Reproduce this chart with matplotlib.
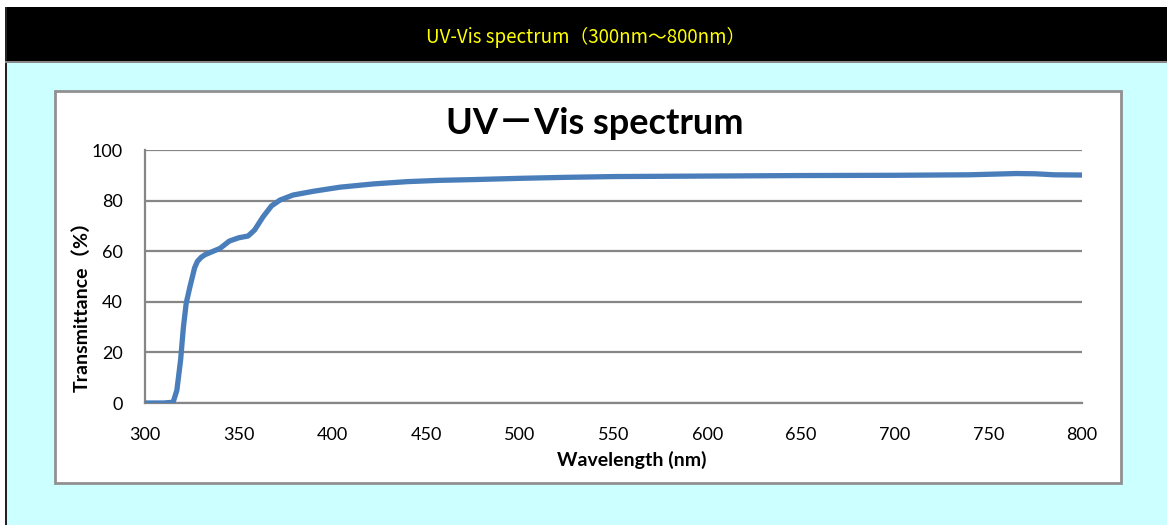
import matplotlib
matplotlib.use("Agg")
import matplotlib.pyplot as plt
from matplotlib.patches import Rectangle

# spectrum
wavelength = [300, 305, 310, 315, 317, 319, 320.5, 322, 324, 326.5, 328, 330, 332, 334.5, 340,
              345, 350, 355, 358.5, 363, 367.5, 372, 379, 390, 404, 422, 440, 457,
              475, 500, 525, 550, 575, 600, 650, 700, 740, 755, 765, 775, 785, 800]
transmittance = [0, 0, 0, 0.3, 5, 17, 30, 39.5, 46, 53.5, 56, 57.6, 58.6, 59.4, 61.1,
                 64, 65.3, 66, 68.4, 73.6, 77.9, 80.2, 82.2, 83.7, 85.3, 86.6, 87.5, 88.0,
                 88.3, 88.8, 89.2, 89.5, 89.6, 89.7, 89.9, 90.0, 90.2, 90.5, 90.7, 90.6, 90.2, 90.1]
yticks = [0, 20, 40, 60, 80, 100]
xticks = [300, 350, 400, 450, 500, 550, 600, 650, 700, 750, 800]

W, H = 1167, 526
fig = plt.figure(figsize=(W / 100, H / 100), dpi=100)
fig.patch.set_facecolor("white")

def box(x0, y0, x1, y1, **kw):
    # pixel box -> figure rectangle, kept behind the axes
    r = Rectangle((x0 / W, 1 - y1 / H), (x1 - x0) / W, (y1 - y0) / H,
                  transform=fig.transFigure, zorder=-5, **kw)
    fig.patches.append(r)

box(5, 7, 1167, 525, facecolor="#ccffff", edgecolor="none")
box(5, 7, 1167, 62, facecolor="black", edgecolor="none")
box(5, 7, 6.5, 525, facecolor="#222222", edgecolor="none")
box(5, 61, 1167, 62.5, facecolor="#888888", edgecolor="none")
box(55, 91, 1121, 483, facecolor="white", edgecolor="#909090", linewidth=2)

fig.text(586 / W, 1 - 37 / H, "UV-Vis spectrum（300nm～800nm）", color="#ffff00",
         ha="center", va="center", fontsize=13.5,
         family=["Noto Sans CJK JP", "DejaVu Sans"])

ax = fig.add_axes([145 / W, 1 - 403 / H, 937 / W, 253 / H])
ax.set_facecolor("none")
ax.plot(wavelength, transmittance, color="#4a7ebb", linewidth=3.8,
        solid_capstyle="round", solid_joinstyle="round", zorder=3)
ax.set_xlim(300, 800)
ax.set_ylim(0, 100)
ax.set_xticks(xticks)
ax.set_yticks(yticks)
ax.tick_params(length=0, labelsize=13, colors="black")
ax.tick_params(axis="x", pad=17)
ax.tick_params(axis="y", pad=16)
for lab in ax.get_xticklabels() + ax.get_yticklabels():
    lab.set_family("Lato")
ax.grid(axis="y", color="#868686", linewidth=1.6)
ax.set_axisbelow(True)
for s in ["top", "right"]:
    ax.spines[s].set_visible(False)
for s in ["left", "bottom"]:
    ax.spines[s].set_color("#868686")
    ax.spines[s].set_linewidth(1.6)
    ax.spines[s].set_zorder(1)

ax.set_xlabel("Wavelength (nm)", family="Lato", fontweight="bold", fontsize=14)
ax.xaxis.set_label_coords(0.519, -0.19)
ax.set_ylabel("Transmittance（%）", family=["Lato", "Noto Sans CJK JP"],
              fontweight="bold", fontsize=14)
ax.yaxis.set_label_coords(-0.058, 0.40)
fig.text(595 / W, 1 - 124 / H, "UV－Vis spectrum", ha="center", va="center",
         fontsize=26, fontweight="bold", family=["Lato", "Noto Sans CJK JP"])

fig.savefig("out.png", dpi=100)
